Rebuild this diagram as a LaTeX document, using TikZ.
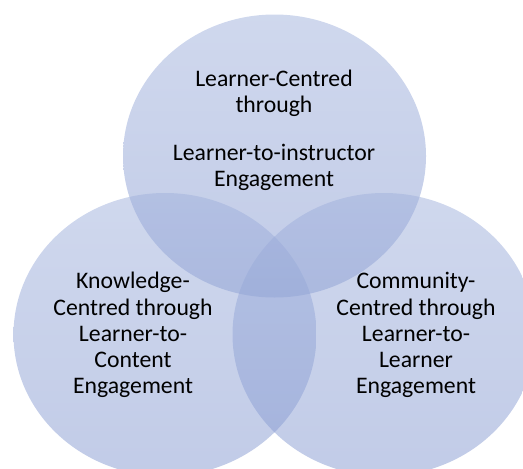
\documentclass[tikz,border=0pt]{standalone}
\usepackage{fontspec}
\setmainfont{Carlito}
\definecolor{venntop}{RGB}{160,177,220}
\definecolor{vennbot}{RGB}{132,152,208}
\tikzset{
  venn/.style={top color=venntop, bottom color=vennbot, fill opacity=0.5, draw=none},
  lbl/.style={align=center, inner sep=0pt, text=black, text opacity=1,
    font=\fontsize{17.8}{19.6}\selectfont}
}
\begin{document}
\begin{tikzpicture}[x=0.75pt,y=-0.75pt]
\useasboundingbox (0,0) rectangle (523,468);
\clip (0,0) rectangle (523,468);
\shade[venn] (274.5,156) ellipse [x radius=151.5, y radius=141.5];
\shade[venn] (165,334.5) ellipse [x radius=151.5, y radius=141.5];
\shade[venn] (384,334.5) ellipse [x radius=151.5, y radius=141.5];
\node[lbl] (learner) at (274,130.5) {Learner-Centred\\through\\[16.5pt]Learner-to-instructor\\Engagement};
\node[lbl] (knowledge) at (133,335) {Knowledge-\\Centred through\\Learner-to-\\Content\\Engagement};
\node[lbl] (community) at (416,335) {Community-\\Centred through\\Learner-to-\\Learner\\Engagement};
\end{tikzpicture}
\end{document}
